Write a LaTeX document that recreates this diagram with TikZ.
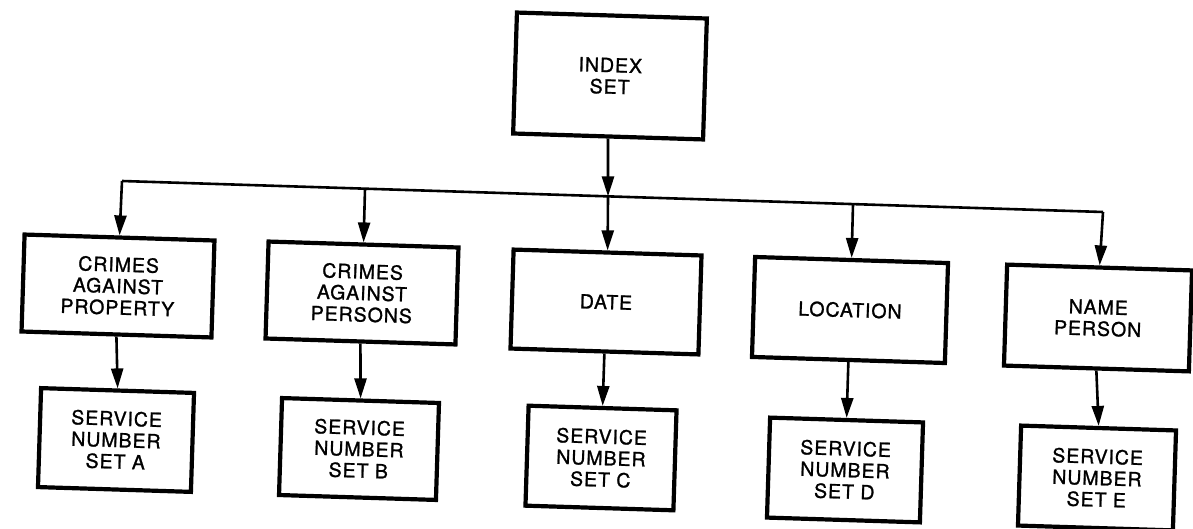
\documentclass[tikz,border=0pt]{standalone}
\usepackage{fontspec}
\setmainfont{TeX Gyre Heros}[LetterSpace=5,FakeBold=1.2]
\usetikzlibrary{arrows.meta}
\begin{document}
\begin{tikzpicture}[x=1pt,y=-1pt,
  box/.style={draw, line width=4.2pt, rectangle, inner sep=0pt, align=center,
    rotate=-1.8, font=\fontsize{19.5}{21.5}\selectfont},
  conn/.style={line width=2.6pt, -{Triangle[length=20pt,width=12pt]}},
  bus/.style={line width=2.6pt}]
\useasboundingbox (0,0) rectangle (1193,529);
\fill[white] (0,0) rectangle (1193,529);
\node[box, minimum width=190pt, minimum height=121pt] (index) at (610,76) {INDEX\\SET};
\node[box, minimum width=190pt, minimum height=97pt] (prop) at (118,286) {CRIMES\\AGAINST\\PROPERTY};
\node[box, minimum width=190pt, minimum height=97pt] (pers) at (362,293) {CRIMES\\AGAINST\\PERSONS};
\node[box, minimum width=188pt, minimum height=99pt] (date) at (606,302) {DATE};
\node[box, minimum width=193pt, minimum height=100pt] (loc) at (850,310) {LOCATION};
\node[box, minimum width=185pt, minimum height=101pt] (name) at (1098,318) {NAME\\PERSON};
\node[box, minimum width=153pt, minimum height=99pt] (setA) at (116,440) {SERVICE\\NUMBER\\SET A};
\node[box, minimum width=157pt, minimum height=97pt] (setB) at (359,449) {SERVICE\\NUMBER\\SET B};
\node[box, minimum width=148pt, minimum height=100pt] (setC) at (601,458) {SERVICE\\NUMBER\\SET C};
\node[box, minimum width=153pt, minimum height=100pt] (setD) at (845,470) {SERVICE\\NUMBER\\SET D};
\node[box, minimum width=155pt, minimum height=100pt] (setE) at (1097,478) {SERVICE\\NUMBER\\SET E};
\coordinate (b1) at (122,181);
\coordinate (b2) at (365,188.7);
\coordinate (b3) at (608,196.4);
\coordinate (b4) at (853,204.1);
\coordinate (b5) at (1103,212);
\draw[bus] (b1) -- (b5);
\draw[conn] (index.south) -- (b3);
\draw[conn] (b1) -- (prop.north);
\draw[conn] (b2) -- (pers.north);
\draw[conn] (b3) -- (date.north);
\draw[conn] (b4) -- (loc.north);
\draw[conn] (b5) -- (name.north);
\draw[conn] (prop.south) -- (setA.north);
\draw[conn] (pers.south) -- (setB.north);
\draw[conn] (date.south) -- (setC.north);
\draw[conn] (loc.south) -- (setD.north);
\draw[conn] (name.south) -- (setE.north);
\end{tikzpicture}
\end{document}
